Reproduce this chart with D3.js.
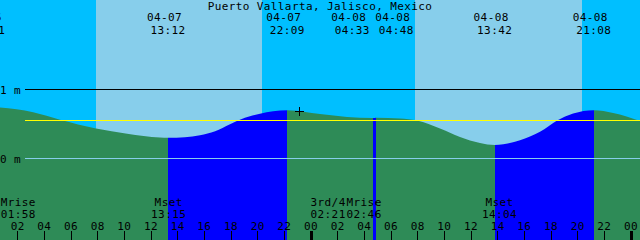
<!DOCTYPE html>
<html>
<head>
<meta charset="utf-8">
<script src="https://cdn.jsdelivr.net/npm/d3@7"></script>
<style>
  html, body { margin: 0; padding: 0; background: #00bfff; overflow: hidden; }
  svg { display: block; }
  text {
    font-family: "DejaVu Sans Mono", "Liberation Mono", monospace;
    font-size: 11px;
    letter-spacing: 0.4px;
    fill: #000;
  }
</style>
</head>
<body>
<div id="chart"></div>
<script>
// ---------------------------
// Data (local time, metres)
// ---------------------------
const title = 'Puerto Vallarta, Jalisco, Mexico';
const windowStart = '2018-04-07 00:36';
const windowEnd = '2018-04-09 00:36';

// tide extremes
const tideTimes = ['2018-04-06 23:41', '2018-04-07 13:12', '2018-04-07 22:09', '2018-04-08 04:33',
  '2018-04-08 04:48', '2018-04-08 13:42', '2018-04-08 21:08'];
const tideTypes = ['H', 'L', 'H', 'L', 'H', 'L', 'H'];
const tideHeights = [0.75, 0.299, 0.700, 0.588, 0.592, 0.197, 0.700];

const sampleTimes = ['2018-04-07 00:36', '2018-04-07 03:05', '2018-04-07 05:06', '2018-04-07 07:48',
  '2018-04-07 10:08', '2018-04-07 12:36', '2018-04-07 14:28', '2018-04-07 15:36', '2018-04-07 16:44',
  '2018-04-07 17:51', '2018-04-07 18:58', '2018-04-07 20:06', '2018-04-07 21:05', '2018-04-08 00:36',
  '2018-04-08 02:38', '2018-04-08 06:36', '2018-04-08 07:53', '2018-04-08 09:36', '2018-04-08 11:06',
  '2018-04-08 12:36', '2018-04-08 15:36', '2018-04-08 17:06', '2018-04-08 18:23', '2018-04-08 19:35',
  '2018-04-08 22:35', '2018-04-09 00:36'];
const sampleHeights = [0.739, 0.671, 0.562, 0.435, 0.359, 0.304, 0.309, 0.338, 0.396, 0.497, 0.591, 0.650,
  0.686, 0.646, 0.603, 0.580, 0.551, 0.435, 0.313, 0.226, 0.265, 0.386, 0.551, 0.652, 0.661, 0.545];

// sun
const sunriseTimes = ['2018-04-07 07:48', '2018-04-08 07:45'];
const sunsetTimes = ['2018-04-07 20:15', '2018-04-08 20:15'];

// moon
const moonTimes = ['2018-04-07 01:58', '2018-04-07 13:15', '2018-04-08 02:21', '2018-04-08 02:46', '2018-04-08 14:04'];
const moonLabels = ['Mrise', 'Mset', '3rd/4', 'Mrise', 'Mset'];

// reference levels
const levelValues = [1, 0];
const levelLabels = ['1 m', '0 m'];
const levelColors = ['#000000', '#87ceeb'];
const meanLevel = 0.55;

// current-time mark
const markTime = '2018-04-07 23:02';
const markHeight = 0.685;

// ---------------------------
// Setup
// ---------------------------
const width = 640, height = 240;
const parse = d3.utcParse('%Y-%m-%d %H:%M');
const fmtDate = d3.utcFormat('%m-%d');
const fmtTime = d3.utcFormat('%H:%M');

const x = d3.scaleUtc().domain([parse(windowStart), parse(windowEnd)]).range([0, width]);
const y = d3.scaleLinear().domain([0, 1]).range([158.5, 89.5]);

const svg = d3.select('#chart').append('svg')
  .attr('width', width)
  .attr('height', height);

// ---------------------------
// Sky: night / day
// ---------------------------
svg.append('rect')
  .attr('width', width).attr('height', height)
  .attr('fill', '#00bfff');

svg.selectAll('.day')
  .data(d3.zip(sunriseTimes, sunsetTimes))
  .enter().append('rect')
  .attr('class', 'day')
  .attr('x', d => x(parse(d[0])))
  .attr('width', d => x(parse(d[1])) - x(parse(d[0])))
  .attr('y', 0).attr('height', height)
  .attr('fill', '#87ceeb')
  .attr('shape-rendering', 'crispEdges');

// ---------------------------
// Water: flood (blue) / ebb (green)
// ---------------------------
const points = tideTimes.map((t, i) => ({ t: parse(t), h: tideHeights[i] }))
  .concat(sampleTimes.map((t, i) => ({ t: parse(t), h: sampleHeights[i] })))
  .sort((a, b) => a.t - b.t);

const area = d3.area()
  .x(d => x(d.t))
  .y0(height)
  .y1(d => y(d.h))
  .curve(d3.curveMonotoneX);

svg.append('clipPath').attr('id', 'water')
  .append('path').attr('d', area(points));

const bounds = tideTimes.map(parse).concat([d3.utcHour.offset(parse(windowEnd), 2)]);
const stretches = tideTypes.map((type, i) => ({
  from: i === 0 ? d3.utcHour.offset(bounds[0], -2) : bounds[i],
  to: bounds[i + 1],
  // the stretch before a high is flood, before a low is ebb
  flood: tideTypes[i + 1] === 'H'
}));

svg.append('g')
  .attr('clip-path', 'url(#water)')
  .selectAll('rect')
  .data(stretches)
  .enter().append('rect')
  .attr('x', d => x(d.from))
  .attr('width', d => x(d.to) - x(d.from))
  .attr('y', 0).attr('height', height)
  .attr('fill', d => d.flood ? '#0000ff' : '#2e8b57')
  .attr('shape-rendering', 'crispEdges');

// ---------------------------
// Reference lines
// ---------------------------
svg.selectAll('.level')
  .data(levelValues)
  .enter().append('line')
  .attr('x1', 25).attr('x2', width)
  .attr('y1', d => y(d)).attr('y2', d => y(d))
  .attr('stroke', (d, i) => levelColors[i])
  .attr('shape-rendering', 'crispEdges');

svg.append('line')
  .attr('x1', 25).attr('x2', width)
  .attr('y1', y(meanLevel)).attr('y2', y(meanLevel))
  .attr('stroke', '#ffff00')
  .attr('shape-rendering', 'crispEdges');

svg.selectAll('.level-label')
  .data(levelValues)
  .enter().append('text')
  .attr('x', 0)
  .attr('y', d => y(d) + 4)
  .text((d, i) => levelLabels[i]);

// current-time mark
const mx = x(parse(markTime)), my = y(markHeight);
svg.append('path')
  .attr('d', `M${mx - 4.5},${my}H${mx + 4.5}M${mx},${my - 4.5}V${my + 4.5}`)
  .attr('stroke', '#000')
  .attr('shape-rendering', 'crispEdges');

// ---------------------------
// Labels, spread apart when they collide
// ---------------------------
function spread(xs, sep) {
  let groups = xs.map(v => ({ orig: [v], c: v }));
  let merged = true;
  while (merged) {
    merged = false;
    for (let i = 1; i < groups.length; i++) {
      const a = groups[i - 1], b = groups[i];
      const aEnd = a.c + (a.orig.length - 1) * sep / 2;
      const bStart = b.c - (b.orig.length - 1) * sep / 2;
      if (bStart - aEnd < sep) {
        const orig = a.orig.concat(b.orig);
        groups.splice(i - 1, 2, { orig, c: d3.mean(orig) });
        merged = true;
        break;
      }
    }
  }
  return groups.flatMap(g => g.orig.map((_, k) => g.c + (k - (g.orig.length - 1) / 2) * sep));
}

svg.append('text')
  .attr('x', width / 2).attr('y', 9.5)
  .attr('text-anchor', 'middle')
  .text(title);

// the first extreme lies before the window, so its label is cut by the left edge
const tideX = spread(tideTimes.map(t => x(parse(t))), 44);
const tideLabels = svg.append('g').attr('text-anchor', 'middle');
tideLabels.selectAll('.tdate').data(tideTimes).enter().append('text')
  .attr('x', (d, i) => tideX[i] - 3.5).attr('y', 21)
  .text(d => fmtDate(parse(d)));
tideLabels.selectAll('.ttime').data(tideTimes).enter().append('text')
  .attr('x', (d, i) => tideX[i]).attr('y', 33.5)
  .text(d => fmtTime(parse(d)));

const moonX = spread(moonTimes.map(t => x(parse(t))), 36);
const moonGroup = svg.append('g').attr('text-anchor', 'middle');
moonGroup.selectAll('.mname').data(moonLabels).enter().append('text')
  .attr('x', (d, i) => moonX[i]).attr('y', 206)
  .text(d => d);
moonGroup.selectAll('.mtime').data(moonTimes).enter().append('text')
  .attr('x', (d, i) => moonX[i]).attr('y', 218)
  .text(d => fmtTime(parse(d)));

// ---------------------------
// Hour axis
// ---------------------------
const ticks = x.ticks(d3.utcHour.every(2));
const axis = svg.append('g');
axis.selectAll('line').data(ticks).enter().append('line')
  .attr('x1', d => x(d) - 1).attr('x2', d => x(d) - 1)
  .attr('y1', 231).attr('y2', height)
  .attr('stroke', '#000')
  .attr('stroke-width', d => d.getUTCHours() === 0 ? 3 : 1)
  .attr('shape-rendering', 'crispEdges');
axis.selectAll('text').data(ticks).enter().append('text')
  .attr('x', d => x(d) - 1).attr('y', 229.5)
  .attr('text-anchor', 'middle')
  .text(d => d3.utcFormat('%H')(d));
</script>
</body>
</html>
